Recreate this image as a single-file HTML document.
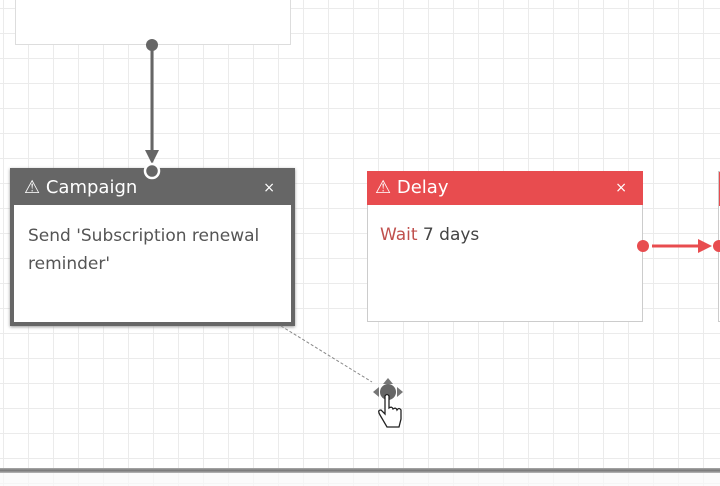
<!DOCTYPE html><html><head><style>
body{margin:0;width:720px;height:486px;overflow:hidden;font-family:"DejaVu Sans","Liberation Sans",sans-serif;}
#c{position:absolute;left:0;top:0;width:720px;height:486px;background-color:#fff;
background-image:linear-gradient(to right,#ebebeb 1px,transparent 1px),linear-gradient(to bottom,#ebebeb 1px,transparent 1px);
background-size:25px 25px;background-position:3px 8px;}
#bar{position:absolute;left:0;top:468px;width:720px;height:5px;background:linear-gradient(#aaa,#777,#bbb);}
#below{position:absolute;left:0;top:473px;width:720px;height:13px;background:rgba(250,250,250,0.7);}
.n{position:absolute;background:#fff;box-sizing:border-box;}
.h{position:absolute;left:0;right:0;top:0;height:34px;color:#fff;font-size:18px;line-height:34px;padding-left:14px;}
.x{position:absolute;right:16px;top:0;font-size:14px;}
.b{position:absolute;top:50px;left:16px;font-size:17px;color:#444;line-height:28px;white-space:nowrap;}
</style></head><body>
<div id="c"></div><div id="bar"></div><div id="below"></div>
<div class="n" style="left:15px;top:-2px;width:276px;height:47px;border:1px solid #ddd"></div>
<div class="n" style="left:10px;top:168px;width:285px;height:158px;border:4px solid #666;box-shadow:0 1px 3px #999">
<div class="h" style="background:#666;height:34px;top:-1px;padding-left:10px">⚠ Campaign<span class="x">×</span></div>
<div class="b" style="left:14px;top:50px;color:#555">Send 'Subscription renewal<br>reminder'</div></div>
<div class="n" style="left:367px;top:171px;width:276px;height:151px;border:1px solid #ccc">
<div class="h" style="background:#e84c4f;left:-1px;right:-1px;top:-1px;padding-left:8px">⚠ Delay<span class="x">×</span></div>
<div class="b" style="left:12px;top:49px"><span style="color:#c0504d">Wait</span> 7 days</div></div>
<div class="n" style="left:718px;top:171px;width:10px;height:151px;border:1px solid #ccc"><div style="position:absolute;left:0;top:0;width:10px;height:34px;background:#e84c4f"></div></div>
<svg width="720" height="486" style="position:absolute;left:0;top:0">
<circle cx="152" cy="45" r="6" fill="#666"/>
<line x1="152" y1="50" x2="152" y2="152" stroke="#666" stroke-width="3"/>
<polygon points="145,150 159,150 152,164" fill="#666"/>
<circle cx="152" cy="171" r="7" fill="#666" stroke="#fff" stroke-width="2.5"/>
<circle cx="643" cy="246" r="6" fill="#e84c4f"/>
<line x1="652" y1="246" x2="700" y2="246" stroke="#e84c4f" stroke-width="3"/>
<polygon points="698,239 712,246 698,253" fill="#e84c4f"/>
<circle cx="719" cy="246" r="6" fill="#e84c4f"/>
<line x1="281" y1="326" x2="372" y2="382" stroke="#888" stroke-width="1" stroke-dasharray="3,2"/>
<circle cx="388" cy="392" r="8" fill="#666"/>
<polygon points="383,384 388,378 393,384" fill="#777"/>
<polygon points="379,387 373,392 379,397" fill="#777"/>
<polygon points="397,387 403,392 397,397" fill="#777"/>
<path d="M385,396 v18 l-4,-4 q-4,0 -1,5 l7,12 h12 l2,-8 v-9 q-2,-3 -4,0 q-1,-3 -4,-1 q-1,-3 -4,-1 v-12 q-2,-3 -4,0z" fill="#fff" stroke="#222" stroke-width="1.3"/>
</svg>
</body></html>
